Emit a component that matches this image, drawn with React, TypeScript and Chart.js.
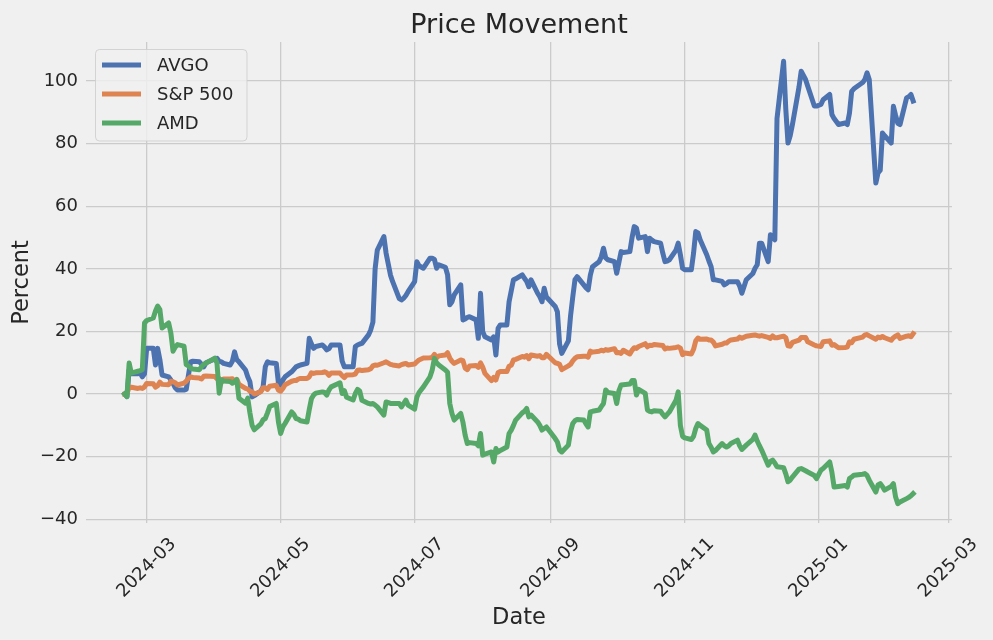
import React, { useEffect, useRef } from "react";
import { Chart, registerables } from "chart.js";

Chart.register(...registerables);

// Trading days (month -> days)
const tradingDays: [string, number[]][] = [
  ["2024-02", [20, 21, 22, 23, 26, 27, 28, 29]],
  ["2024-03", [1, 4, 5, 6, 7, 8, 11, 12, 13, 14, 15, 18, 19, 20, 21, 22, 25, 26, 27, 28]],
  ["2024-04", [1, 2, 3, 4, 5, 8, 9, 10, 11, 12, 15, 16, 17, 18, 19, 22, 23, 24, 25, 26, 29, 30]],
  ["2024-05", [1, 2, 3, 6, 7, 8, 9, 10, 13, 14, 15, 16, 17, 20, 21, 22, 23, 24, 28, 29, 30, 31]],
  ["2024-06", [3, 4, 5, 6, 7, 10, 11, 12, 13, 14, 17, 18, 20, 21, 24, 25, 26, 27, 28]],
  ["2024-07", [1, 2, 3, 5, 8, 9, 10, 11, 12, 15, 16, 17, 18, 19, 22, 23, 24, 25, 26, 29, 30, 31]],
  ["2024-08", [1, 2, 5, 6, 7, 8, 9, 12, 13, 14, 15, 16, 19, 20, 21, 22, 23, 26, 27, 28, 29, 30]],
  ["2024-09", [3, 4, 5, 6, 9, 10, 11, 12, 13, 16, 17, 18, 19, 20, 23, 24, 25, 26, 27, 30]],
  ["2024-10", [1, 2, 3, 4, 7, 8, 9, 10, 11, 14, 15, 16, 17, 18, 21, 22, 23, 24, 25, 28, 29, 30, 31]],
  ["2024-11", [1, 4, 5, 6, 7, 8, 11, 12, 13, 14, 15, 18, 19, 20, 21, 22, 25, 26, 27, 29]],
  ["2024-12", [2, 3, 4, 5, 6, 9, 10, 11, 12, 13, 16, 17, 18, 19, 20, 23, 24, 26, 27, 30, 31]],
  ["2025-01", [2, 3, 6, 7, 8, 10, 13, 14, 15, 16, 17, 21, 22, 23, 24, 27, 28, 29, 30, 31]],
  ["2025-02", [3, 4, 5, 6, 7, 10, 11, 12, 13]],
];

const dates: string[] = tradingDays.flatMap(([m, ds]) =>
  ds.map((d) => `${m}-${String(d).padStart(2, "0")}`)
);

// Percent change, AVGO
const avgo: number[] = [
  0, -0.8, 7.7, 6.5, 6.5, 6.8, 5.5, 6.5,
  14.6, 14.6, 9.3, 14.6, 11, 6.1, 5.5, 4.5, 3.4, 2, 1.3, 1.3, 1.5, 6, 10.3, 10.5, 10.3, 9.5, 8.7, 10,
  11.2, 11.4, 10.5, 10.3, 9.8, 9.3, 10.5, 13.5, 11, 10.3, 7.7, 5.5, 3.9, -0.9, -0.5, 1, 2.3, 8.7, 10.3, 10, 9.8, 3.4,
  2.9, 4.5, 5.5, 7.1, 7.9, 8.7, 9, 9.3, 9.8, 17.8, 16, 14.6, 15.2, 15.7, 15, 14.1, 14.5, 15.7, 15.7, 10.5, 8.7, 8.7,
  8.7, 15.2, 15.7, 16, 16.2, 18.9, 20.5, 23, 40, 46, 50.3, 45, 38, 35.9, 30.5, 30.1, 30.6, 31.5, 32.7,
  35.9, 42.3, 41, 40.2, 43.4, 43.4, 43, 40.2, 41.3, 40.5, 38.1, 28.5, 29.5, 31.7, 34.9, 23.7, 24, 24.5, 24.7, 23.7, 17.8, 32.2,
  19.9, 18.3, 17.3, 18.3, 12.5, 21, 22.1, 22.1, 29.5, 33, 36.5, 36.8, 38.1, 37, 36, 34.3, 36.5, 32.2, 31.1, 29.5, 33.8, 31,
  28, 26.3, 16, 13, 17, 25, 31, 36.5, 37.5, 34.9, 34, 33.3, 38, 40.7, 42.3, 43.9, 46.6, 43.5, 42.9, 42.3,
  38.6, 42, 45.5, 45.2, 45.5, 50, 53.5, 53, 49.8, 50.3, 45.5, 49.8, 49.2, 48.7, 48.2, 45, 42.3, 42.5, 42.9, 46, 48.2, 44.5, 40.2,
  39.7, 39.7, 45, 51.9, 51.5, 49.3, 44.5, 42.5, 40.7, 36.5, 36.5, 36, 34.9, 35.3, 35.9, 35.9, 35.9, 34.5, 32.2, 36.5,
  38.5, 40.2, 41.3, 48.2, 48.2, 42.3, 50.9, 50, 49.3, 88, 106.3, 91, 80.2, 82.5, 86, 98, 103.1, 100.5, 98.3, 92, 92,
  92.5, 94, 95.7, 89.3, 88, 86.1, 86.6, 86.1, 89.8, 96.7, 97.5, 99.5, 100.5, 102.6, 100.5, 67.4, 70.6, 71.5, 83.4, 82.5,
  80.2, 91.9, 89, 86.5, 86.1, 94.6, 95, 95.7, 93.6,
];

// Percent change, S&P 500
const sp500: number[] = [
  0, 0.1, 2.2, 2.2, 1.8, 2, 1.8, 2.3,
  3.4, 3.3, 2.2, 2.7, 3.8, 3.1, 3, 4.1, 3.9, 3.6, 2.9, 3.5, 4.1, 5, 5.5, 5.3, 5.1, 4.8, 5.7, 5.8,
  5.6, 4.9, 5, 3.7, 4.8, 4.8, 4.9, 3.9, 4.7, 3.1, 1.8, 1.6, 0.9, 0.7, 0, 0.8, 2, 2, 1.5, 2.5, 2.8, 1.2,
  0.9, 1.8, 3, 4.1, 4.3, 4.3, 4.8, 5, 5, 5.5, 6.8, 6.6, 6.8, 6.9, 7.1, 6.8, 6, 6.7, 6.7, 5.9, 5.3, 6.1,
  6.2, 6.4, 7.6, 7.7, 7.5, 7.8, 8.1, 9, 9.3, 9.2, 10, 10.3, 9.5, 9.3, 9, 9.4, 9.6, 9.8, 9.3,
  9.6, 10.3, 10.9, 11.5, 11.6, 11.7, 12.7, 11.6, 12.2, 12.5, 13.2, 11.5, 10.5, 9.8, 10.9, 10.7, 8.3, 7.8, 9, 9.1, 8.5, 10,
  8.6, 6.6, 4.3, 5.3, 4.5, 6.8, 7.2, 7.2, 8.9, 9.2, 10.9, 11.1, 12, 11.8, 12.3, 11.3, 12.5, 12.1, 12.3, 11.6, 11.6, 12.7,
  10, 9.8, 9.5, 7.8, 9, 9.5, 10.6, 11.4, 11.9, 12.1, 12.1, 11.8, 13.7, 13.4, 13.7, 14, 13.8, 14.2, 14, 14.5,
  13.2, 13.3, 13, 14, 12.8, 14, 14.8, 14.6, 15.2, 16.1, 15.1, 15.6, 15.5, 15.8, 15.6, 15.5, 14.4, 14.7, 14.6, 14.9, 15.1, 14.7, 12.6,
  13.1, 12.8, 14.3, 17, 17.9, 17.5, 17.6, 17.3, 17.3, 16.6, 15.4, 15.9, 16.3, 16.3, 16.9, 17.3, 17.6, 18.2, 17.8, 18.5,
  18.8, 18.9, 18.7, 18.5, 18.7, 18.1, 17.8, 18.6, 18, 18, 18.5, 18, 15.4, 15.3, 16.5, 17.2, 18.1, 18.1, 16.7, 15.7, 15.4,
  15.2, 16.7, 17, 15.6, 15.8, 14.8, 14.9, 15, 16.7, 16.4, 17.5, 18.2, 18.9, 19, 18.6, 17.5, 18.2, 18, 18.4, 18,
  17.2, 18, 18.5, 18.9, 17.8, 18.5, 18.6, 18.3, 19.3,
];

// Percent change, AMD
const amd: number[] = [
  0, -0.8, 9.9, 6.7, 7.3, 7.5, 7.8, 22.7,
  23.5, 24.3, 26.5, 28.1, 27, 21.1, 22.7, 19.5, 13.7, 15, 15.8, 15.3, 9.4, 9, 8.3, 8, 7.8, 8.8, 9.5, 9.9,
  11.5, 9.9, 0.3, 4.6, 4.2, 4, 3.5, 4, 4.6, -1.3, -2.9, -1.3, -6, -10, -11.4, -9.5, -8.2, -7.8, -6, -4, -3, -9,
  -12.6, -10.5, -9.4, -5.7, -6.5, -7.8, -8, -8.5, -8.9, -5, -1.5, -0.3, 0.3, 0.7, 0.5, -0.3, 1.3, 2.3, 3.6, 0.2, 1.1, -1,
  -1.9, 0.2, 1.5, 1, -2, -3, -3.2, -3, -3.5, -4.1, -6.7, -2.5, -3, -3, -3, -4.1, -3, -1.9, -3.5,
  -4.8, -1, 0.5, 2.3, 5.5, 7.7, 11.4, 10, 9.3, 7.7, 7, -3, -6.2, -8.3, -6.2, -9, -13.1, -15.8, -15.5, -15.8, -16.5, -12.6,
  -19.5, -19.2, -18.5, -21.7, -17.4, -18.5, -18, -16.9, -12.6, -11.5, -10, -8.3, -6, -5.5, -4.6, -7.3, -6.7, -8.9, -10, -11.5, -11, -10.5,
  -14.2, -15.3, -17.9, -18.5, -16.3, -12, -9.4, -8.5, -8.1, -8.3, -9.5, -10.5, -5.7, -5.5, -5.1, -4, -3, 1.3, 0.5, 0.2,
  -3, 1, 2.9, 3, 3.2, 4.3, 4.3, -0.3, 1.5, 0.2, -5.1, -5.5, -5.7, -5.3, -5.5, -6.5, -7.3, -6.5, -5.7, -2, 0.7, -10, -13.5,
  -14, -14.5, -13.5, -11, -9.4, -10, -11.5, -15.8, -17, -18.5, -18, -15.8, -16.5, -16.9, -16.5, -15.8, -14.7, -16.5, -17.7, -16.3,
  -14.5, -13.1, -15, -16.5, -17.9, -22.7, -21.5, -21.1, -22, -23.2, -23.5, -25.5, -28, -27.5, -26.5, -24, -23.8, -24.5, -24.9, -26, -27,
  -24.3, -23.8, -21.7, -25, -29.7, -29.5, -29.2, -29.7, -27, -26.5, -25.9, -25.6, -25.4, -26, -27.5, -31.3, -29, -28.6, -29.5, -30.7,
  -29.5, -28.6, -32.9, -35, -34.5, -33.4, -33, -32.5, -31.8,
];

const seriesNames: string[] = ["AVGO", "S&P 500", "AMD"];
const seriesColors: string[] = ["#4c72b0", "#dd8452", "#55a868"];
const xTickLabels: string[] = ["2024-03", "2024-05", "2024-07", "2024-09", "2024-11", "2025-01", "2025-03"];
const yTickValues: number[] = [-40, -20, 0, 20, 40, 60, 80, 100];

const BG = "#f0f0f0";
const GRID = "#cbcbcb";
const TEXT = "#262626";
const FONT = "'DejaVu Sans', sans-serif";

const BASE = Date.UTC(2024, 2, 1);
const dayNum = (s: string): number =>
  (Date.UTC(+s.slice(0, 4), +s.slice(5, 7) - 1, +s.slice(8, 10)) - BASE) / 86400000;

const decorations = {
  id: "decorations",
  beforeDraw(chart: any) {
    const { ctx, width, height } = chart;
    ctx.save();
    ctx.fillStyle = BG;
    ctx.fillRect(0, 0, width, height);
    ctx.restore();
  },
  afterDraw(chart: any) {
    const { ctx, chartArea } = chart;
    const xs = chart.scales.x;
    const cx = (chartArea.left + chartArea.right) / 2;
    const cy = (chartArea.top + chartArea.bottom) / 2;
    ctx.save();
    ctx.fillStyle = TEXT;

    // Title
    ctx.font = `27px ${FONT}`;
    ctx.textAlign = "center";
    ctx.textBaseline = "alphabetic";
    ctx.fillText("Price Movement", cx, 33);

    // Axis titles
    ctx.font = `22.5px ${FONT}`;
    ctx.textBaseline = "middle";
    ctx.fillText("Date", cx, 618);
    ctx.save();
    ctx.translate(22, cy);
    ctx.rotate(-Math.PI / 2);
    ctx.fillText("Percent", 0, 0);
    ctx.restore();

    // X tick labels, rotated 45 degrees
    ctx.font = `18px ${FONT}`;
    for (const lab of xTickLabels) {
      const px = xs.getPixelForValue(dayNum(lab + "-01"));
      ctx.save();
      ctx.translate(px, chartArea.bottom + 45);
      ctx.rotate(-Math.PI / 4);
      ctx.textAlign = "center";
      ctx.textBaseline = "middle";
      ctx.fillText(lab, 0, 0);
      ctx.restore();
    }

    // Legend
    const lx = 95.5, ly = 49.5, lw = 151.5, lh = 91.5, r = 4;
    ctx.beginPath();
    ctx.moveTo(lx + r, ly);
    ctx.lineTo(lx + lw - r, ly);
    ctx.quadraticCurveTo(lx + lw, ly, lx + lw, ly + r);
    ctx.lineTo(lx + lw, ly + lh - r);
    ctx.quadraticCurveTo(lx + lw, ly + lh, lx + lw - r, ly + lh);
    ctx.lineTo(lx + r, ly + lh);
    ctx.quadraticCurveTo(lx, ly + lh, lx, ly + lh - r);
    ctx.lineTo(lx, ly + r);
    ctx.quadraticCurveTo(lx, ly, lx + r, ly);
    ctx.closePath();
    ctx.fillStyle = "rgba(240,240,240,0.8)";
    ctx.fill();
    ctx.strokeStyle = "rgba(204,204,204,0.8)";
    ctx.lineWidth = 1;
    ctx.stroke();

    const rows = [65, 94, 123];
    seriesNames.forEach((name, i) => {
      ctx.strokeStyle = seriesColors[i];
      ctx.lineWidth = 5;
      ctx.lineCap = "butt";
      ctx.beginPath();
      ctx.moveTo(102, rows[i]);
      ctx.lineTo(141, rows[i]);
      ctx.stroke();
      ctx.fillStyle = TEXT;
      ctx.font = `18px ${FONT}`;
      ctx.textAlign = "left";
      ctx.textBaseline = "middle";
      ctx.fillText(name, 157, rows[i] + 1);
    });
    ctx.restore();
  },
};

export default function App() {
  const ref = useRef<HTMLCanvasElement>(null);

  useEffect(() => {
    document.body.style.margin = "0";
    document.body.style.background = BG;
    const canvas = ref.current;
    if (!canvas) return;
    const xs = dates.map(dayNum);
    const seriesValues = [avgo, sp500, amd];
    const chart = new Chart(canvas, {
      type: "line",
      data: {
        datasets: seriesNames.map((name, i) => ({
          label: name,
          data: seriesValues[i].map((v, j) => ({ x: xs[j], y: v })),
          borderColor: seriesColors[i],
          backgroundColor: seriesColors[i],
          borderWidth: 5,
          pointRadius: 0,
          tension: 0,
          fill: false,
          borderJoinStyle: "round",
          borderCapStyle: "square",
          order: 3 - i,
        })),
      },
      options: {
        responsive: false,
        devicePixelRatio: 1,
        animation: false,
        events: [],
        layout: { padding: { left: 0, right: 41, top: 42, bottom: 0 } },
        plugins: {
          legend: { display: false },
          title: { display: false },
          tooltip: { enabled: false },
        },
        scales: {
          x: {
            type: "linear",
            min: -27.64,
            max: 366.68,
            afterBuildTicks: (scale: any) => {
              scale.ticks = xTickLabels.map((l) => ({ value: dayNum(l + "-01") }));
            },
            afterFit: (scale: any) => {
              scale.height = 117;
            },
            ticks: { display: false, autoSkip: false },
            grid: { color: GRID, lineWidth: 1.3, drawTicks: false },
            border: { display: false },
          },
          y: {
            type: "linear",
            min: -41.18,
            max: 112.46,
            afterBuildTicks: (scale: any) => {
              scale.ticks = yTickValues.map((v) => ({ value: v }));
            },
            afterFit: (scale: any) => {
              scale.width = 86;
            },
            ticks: {
              autoSkip: false,
              padding: 8,
              color: TEXT,
              font: { family: FONT, size: 18 },
              callback: (v: any) => String(v).replace("-", "\u2212"),
            },
            grid: { color: GRID, lineWidth: 1.3, drawTicks: false },
            border: { display: false },
          },
        },
      },
      plugins: [decorations],
    } as any);
    return () => chart.destroy();
  }, []);

  return (
    <div style={{ position: "fixed", left: 0, top: 0, width: 993, height: 640, background: BG }}>
      <canvas ref={ref} width={993} height={640} style={{ display: "block", width: 993, height: 640 }} />
    </div>
  );
}
